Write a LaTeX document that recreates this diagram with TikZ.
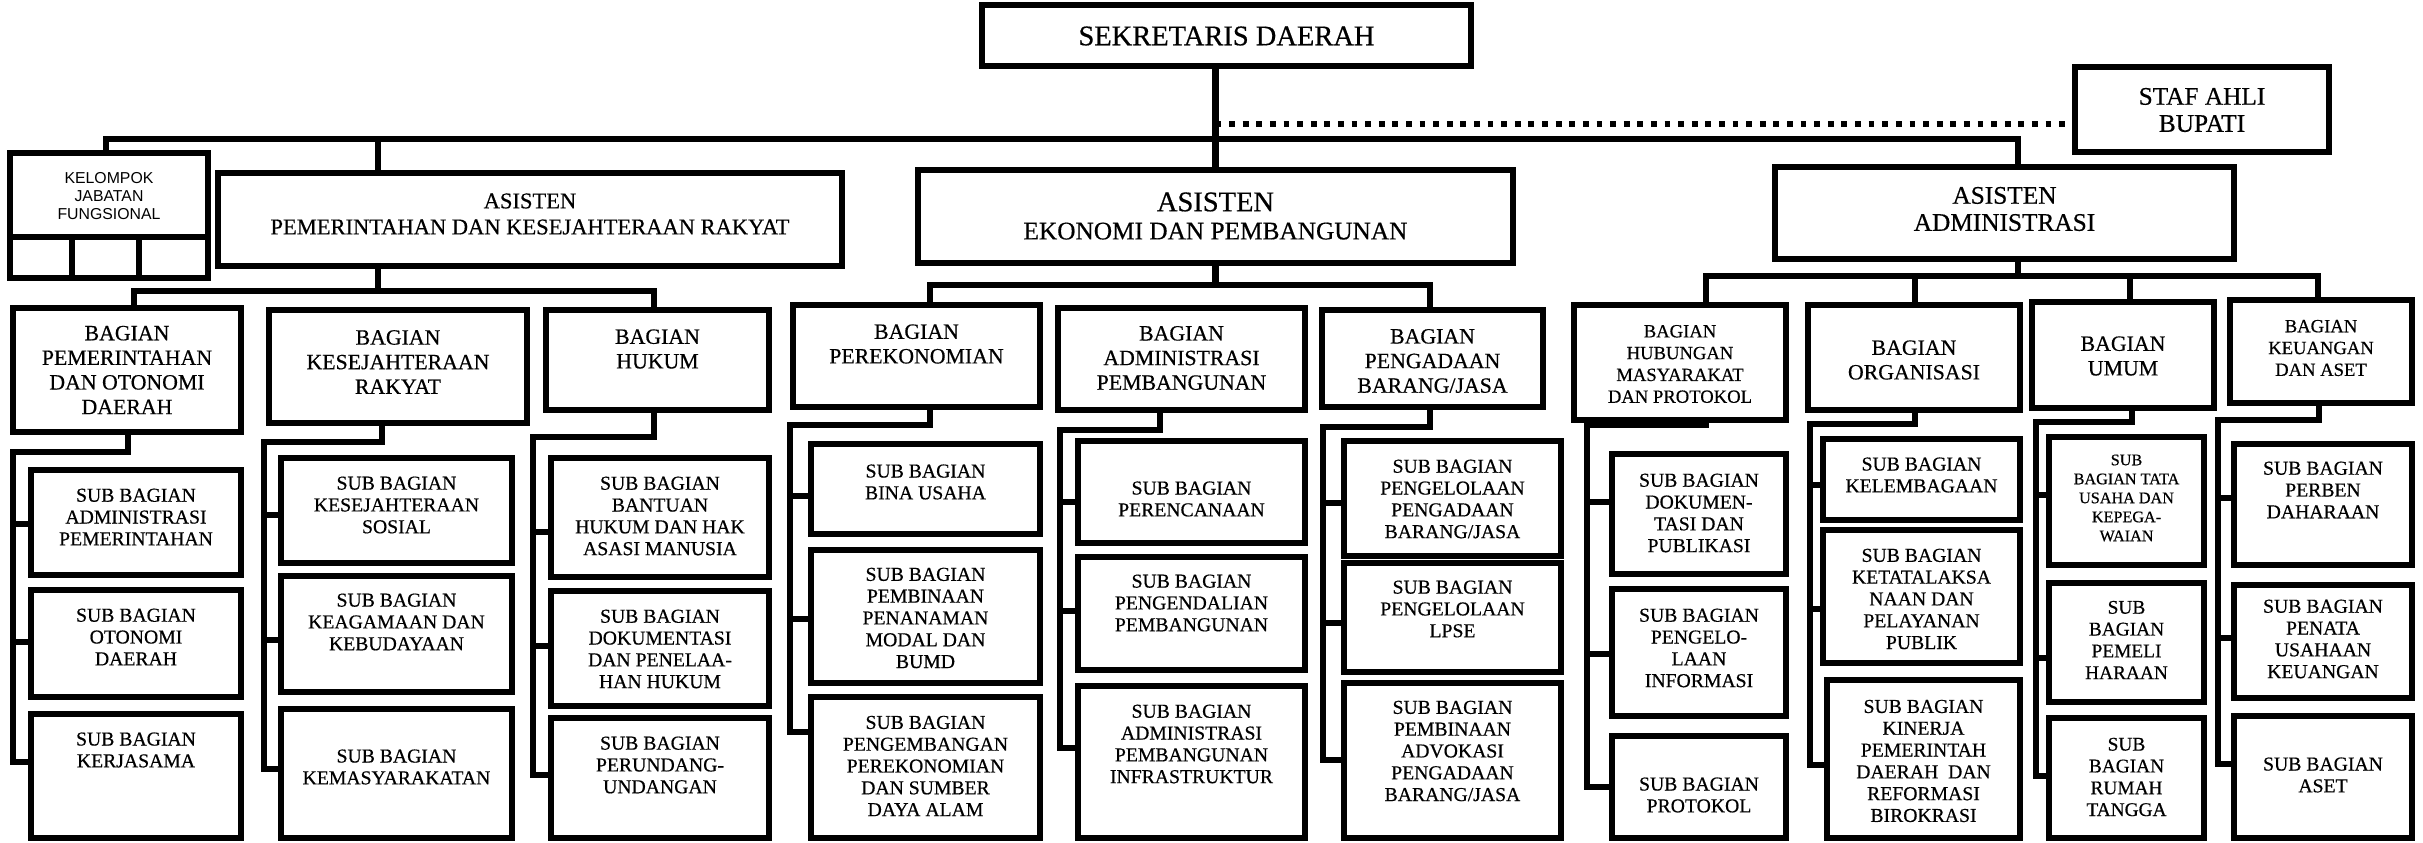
\documentclass[tikz,border=0pt]{standalone}
\usepackage{fontspec}
\setmainfont{Liberation Serif}[FakeBold=0.5]
\setsansfont{Liberation Sans}

\tikzset{
  box/.style={draw, line width=0.062cm, inner sep=0pt, outer sep=0pt},
  link/.style={line width=0.062cm, line join=miter},
  dotline/.style={line width=0.058cm, dash pattern=on 0.058cm off 0.078cm},
  txt/.style={align=center, inner sep=0pt},
  toptxt/.style={txt, font=\fontsize{8.1}{9}\selectfont},
  staftxt/.style={txt, font=\fontsize{7.2}{7.7}\selectfont},
  pemtxt/.style={txt, font=\fontsize{6.4}{7.4}\selectfont},
  ekotxt/.style={txt, font=\fontsize{7.2}{8}\selectfont},
  admtxt/.style={txt, font=\fontsize{7.2}{7.7}\selectfont},
  bagtxt/.style={txt, font=\fontsize{6.2}{7}\selectfont},
  smbagtxt/.style={txt, font=\fontsize{5.3}{6.2}\selectfont},
  subtxt/.style={txt, font=\fontsize{5.6}{6.2}\selectfont},
  umutxt/.style={txt, font=\fontsize{5.5}{6.2}\selectfont},
  tinytxt/.style={txt, font=\fontsize{4.6}{5.4}\selectfont},
  kjftxt/.style={txt, font=\sffamily\fontsize{4.5}{5.2}\selectfont}
}

% box from (x1,y1) to (x2,y2), text centred at height ty
\newcommand{\orgbox}[8][subtxt]{%
  \node[box, minimum width={(#5-#3)*0.1mm}, minimum height={(#6-#4)*0.1mm}]
    (#2) at ({(#3+#5)/2},{(#4+#6)/2}) {};
  \node[#1] (#2-t) at ({(#3+#5)/2},#7) {#8};}

\begin{document}
\begin{tikzpicture}[x=0.01cm,y=-0.01cm]
	\useasboundingbox (0,0) rectangle (2423,843);

	% top
	\orgbox[toptxt]{sekda}{982}{5}{1471}{66}{36}{SEKRETARIS DAERAH}
	\orgbox[staftxt]{staf}{2075}{67}{2329}{152}{110}{STAF AHLI\\BUPATI}
	\orgbox[kjftxt]{kjf}{10}{153}{208}{278}{196}{KELOMPOK\\JABATAN\\FUNGSIONAL}
	\draw[link] (kjf.west |- 0,237) -- (kjf.east |- 0,237);
	\draw[link] (72,237) -- (72,0 |- kjf.south);
	\draw[link] (139,237) -- (139,0 |- kjf.south);

	\orgbox[pemtxt]{asPem}{218}{173}{842}{266}{214}{ASISTEN\\PEMERINTAHAN DAN KESEJAHTERAAN RAKYAT}
	\orgbox[ekotxt]{asEko}{918}{170}{1513}{263}{216}{{\fontsize{8.1}{8}\selectfont ASISTEN}\\EKONOMI DAN PEMBANGUNAN}
	\orgbox[admtxt]{asAdm}{1775}{167}{2234}{259}{209}{ASISTEN\\ADMINISTRASI}

	\draw[link] (asEko.north |- sekda.south) -- (asEko.north);
	\draw[dotline] (asEko.north |- 0,124) -- (staf.west |- 0,124);
	\draw[link] (106,0 |- kjf.north) |- (2018,139) -- (2018,0 |- asAdm.north);
	\draw[link] (378,139) -- (378,0 |- asPem.north);

	% bagian
	\orgbox[bagtxt]{bgPem}{13}{308}{241}{432}{370}{BAGIAN\\PEMERINTAHAN\\DAN OTONOMI\\DAERAH}
	\orgbox[bagtxt]{bgKes}{269}{310}{527}{423}{362}{BAGIAN\\KESEJAHTERAAN\\RAKYAT}
	\orgbox[bagtxt]{bgHuk}{546}{310}{769}{410}{349}{BAGIAN\\HUKUM}
	\orgbox[bagtxt]{bgPer}{793}{305}{1040}{407}{344}{BAGIAN\\PEREKONOMIAN}
	\orgbox[bagtxt]{bgAdp}{1058}{308}{1305}{410}{358}{BAGIAN\\ADMINISTRASI\\PEMBANGUNAN}
	\orgbox[bagtxt]{bgPga}{1322}{310}{1543}{407}{361}{BAGIAN\\PENGADAAN\\BARANG/JASA}
	\orgbox[smbagtxt]{bgHub}{1574}{305}{1786}{420}{364}{BAGIAN\\HUBUNGAN\\MASYARAKAT\\DAN PROTOKOL}
	\orgbox[bagtxt]{bgOrg}{1808}{305}{2020}{410}{360}{BAGIAN\\ORGANISASI}
	\orgbox[bagtxt]{bgUmu}{2032}{302}{2214}{408}{356}{BAGIAN\\UMUM}
	\orgbox[smbagtxt]{bgKeu}{2230}{300}{2412}{403}{348}{BAGIAN\\KEUANGAN\\DAN ASET}

	\draw[link] (378,0 |- asPem.south) -- (378,291);
	\draw[link] (134,0 |- bgPem.north) |- (654,291) -- (654,0 |- bgHuk.north);
	\draw[link] (asEko.south) -- (asEko.south |- 0,285);
	\draw[link] (930,0 |- bgPer.north) |- (1430,285) -- (1430,0 |- bgPga.north);
	\draw[link] (2018,0 |- asAdm.south) -- (2018,276);
	\draw[link] (1706,0 |- bgHub.north) |- (2318,276) -- (2318,0 |- bgKeu.north);
	\draw[link] (1915,276) -- (1915,0 |- bgOrg.north);
	\draw[link] (2130,276) -- (2130,0 |- bgUmu.north);

	% sub bagian
	\orgbox{sbPemA}{31}{470}{241}{575}{517}{SUB BAGIAN\\ADMINISTRASI\\PEMERINTAHAN}
	\orgbox{sbPemB}{31}{590}{241}{697}{637}{SUB BAGIAN\\OTONOMI\\DAERAH}
	\orgbox{sbPemC}{31}{714}{241}{838}{750}{SUB BAGIAN\\KERJASAMA}
	\draw[link] (128,0 |- bgPem.south) |- (13,452) -- (13,762) -- (sbPemC.west |- 0,762);
	\draw[link] (13,524) -- (sbPemA.west |- 0,524);
	\draw[link] (13,642) -- (sbPemB.west |- 0,642);

	\orgbox{sbKesA}{281}{458}{512}{563}{505}{SUB BAGIAN\\KESEJAHTERAAN\\SOSIAL}
	\orgbox{sbKesB}{281}{576}{512}{692}{622}{SUB BAGIAN\\KEAGAMAAN DAN\\KEBUDAYAAN}
	\orgbox{sbKesC}{281}{709}{512}{838}{767}{SUB BAGIAN\\KEMASYARAKATAN}
	\draw[link] (382,0 |- bgKes.south) |- (264,442) -- (264,769) -- (sbKesC.west |- 0,769);
	\draw[link] (264,515) -- (sbKesA.west |- 0,515);
	\draw[link] (264,640) -- (sbKesB.west |- 0,640);

	\orgbox{sbHukA}{551}{458}{769}{577}{516}{SUB BAGIAN\\BANTUAN\\HUKUM DAN HAK\\ASASI MANUSIA}
	\orgbox{sbHukB}{551}{591}{769}{706}{649}{SUB BAGIAN\\DOKUMENTASI\\DAN PENELAA-\\HAN HUKUM}
	\orgbox{sbHukC}{551}{718}{769}{838}{765}{SUB BAGIAN\\PERUNDANG-\\UNDANGAN}
	\draw[link] (654,0 |- bgHuk.south) |- (533,437) -- (533,775) -- (sbHukC.west |- 0,775);
	\draw[link] (533,532) -- (sbHukA.west |- 0,532);
	\draw[link] (533,646) -- (sbHukB.west |- 0,646);

	\orgbox{sbPerA}{811}{444}{1040}{534}{482}{SUB BAGIAN\\BINA USAHA}
	\orgbox{sbPerB}{811}{550}{1040}{683}{618}{SUB BAGIAN\\PEMBINAAN\\PENANAMAN\\MODAL DAN\\BUMD}
	\orgbox{sbPerC}{811}{697}{1040}{838}{766}{SUB BAGIAN\\PENGEMBANGAN\\PEREKONOMIAN\\DAN SUMBER\\DAYA ALAM}
	\draw[link] (930,0 |- bgPer.south) |- (790,425) -- (790,732) -- (sbPerC.west |- 0,732);
	\draw[link] (790,496) -- (sbPerA.west |- 0,496);
	\draw[link] (790,619) -- (sbPerB.west |- 0,619);

	\orgbox{sbAdpA}{1078}{441}{1305}{543}{499}{SUB BAGIAN\\PERENCANAAN}
	\orgbox{sbAdpB}{1078}{557}{1305}{670}{603}{SUB BAGIAN\\PENGENDALIAN\\PEMBANGUNAN}
	\orgbox{sbAdpC}{1078}{686}{1305}{838}{744}{SUB BAGIAN\\ADMINISTRASI\\PEMBANGUNAN\\INFRASTRUKTUR}
	\draw[link] (1160,0 |- bgAdp.south) |- (1060,430) -- (1060,748) -- (sbAdpC.west |- 0,748);
	\draw[link] (1060,502) -- (sbAdpA.west |- 0,502);
	\draw[link] (1060,611) -- (sbAdpB.west |- 0,611);

	\orgbox{sbPgaA}{1344}{441}{1561}{556}{499}{SUB BAGIAN\\PENGELOLAAN\\PENGADAAN\\BARANG/JASA}
	\orgbox{sbPgaB}{1344}{563}{1561}{672}{609}{SUB BAGIAN\\PENGELOLAAN\\LPSE}
	\orgbox{sbPgaC}{1344}{683}{1561}{838}{751}{SUB BAGIAN\\PEMBINAAN\\ADVOKASI\\PENGADAAN\\BARANG/JASA}
	\draw[link] (1430,0 |- bgPga.south) |- (1323,427) -- (1323,760) -- (sbPgaC.west |- 0,760);
	\draw[link] (1323,503) -- (sbPgaA.west |- 0,503);
	\draw[link] (1323,623) -- (sbPgaB.west |- 0,623);

	\orgbox{sbHubA}{1612}{454}{1786}{574}{513}{SUB BAGIAN\\DOKUMEN-\\TASI DAN\\PUBLIKASI}
	\orgbox{sbHubB}{1612}{589}{1786}{716}{648}{SUB BAGIAN\\PENGELO-\\LAAN\\INFORMASI}
	\orgbox{sbHubC}{1612}{736}{1786}{838}{795}{SUB BAGIAN\\PROTOKOL}
	\draw[link] (1706,0 |- bgHub.south) |- (1587,425) -- (1587,787) -- (sbHubC.west |- 0,787);
	\draw[link] (1587,502) -- (sbHubA.west |- 0,502);
	\draw[link] (1587,654) -- (sbHubB.west |- 0,654);

	\orgbox{sbOrgA}{1823}{439}{2020}{520}{475}{SUB BAGIAN\\KELEMBAGAAN}
	\orgbox{sbOrgB}{1823}{530}{2020}{663}{599}{SUB BAGIAN\\KETATALAKSA\\NAAN DAN\\PELAYANAN\\PUBLIK}
	\orgbox{sbOrgC}{1827}{680}{2020}{838}{761}{SUB BAGIAN\\KINERJA\\PEMERINTAH\\DAERAH\ \ DAN\\REFORMASI\\BIROKRASI}
	\draw[link] (1915,0 |- bgOrg.south) |- (1810,424) -- (1810,765) -- (sbOrgC.west |- 0,765);
	\draw[link] (1810,485) -- (sbOrgA.west |- 0,485);
	\draw[link] (1810,609) -- (sbOrgB.west |- 0,609);

	\orgbox[tinytxt]{sbUmuA}{2049}{437}{2204}{565}{498}{SUB\\BAGIAN TATA\\USAHA DAN\\KEPEGA-\\WAIAN}
	\orgbox[umutxt]{sbUmuB}{2049}{583}{2204}{702}{640}{SUB\\BAGIAN\\PEMELI\\HARAAN}
	\orgbox[umutxt]{sbUmuC}{2049}{718}{2204}{838}{777}{SUB\\BAGIAN\\RUMAH\\TANGGA}
	\draw[link] (2132,0 |- bgUmu.south) |- (2036,422) -- (2036,776) -- (sbUmuC.west |- 0,776);
	\draw[link] (2036,495) -- (sbUmuA.west |- 0,495);
	\draw[link] (2036,658) -- (sbUmuB.west |- 0,658);

	\orgbox{sbKeuA}{2234}{444}{2412}{565}{490}{SUB BAGIAN\\PERBEN\\DAHARAAN}
	\orgbox{sbKeuB}{2234}{585}{2412}{698}{639}{SUB BAGIAN\\PENATA\\USAHAAN\\KEUANGAN}
	\orgbox{sbKeuC}{2234}{716}{2412}{838}{775}{SUB BAGIAN\\ASET}
	\draw[link] (2319,0 |- bgKeu.south) |- (2218,420) -- (2218,764) -- (sbKeuC.west |- 0,764);
	\draw[link] (2218,498) -- (sbKeuA.west |- 0,498);
	\draw[link] (2218,638) -- (sbKeuB.west |- 0,638);
\end{tikzpicture}
\end{document}
